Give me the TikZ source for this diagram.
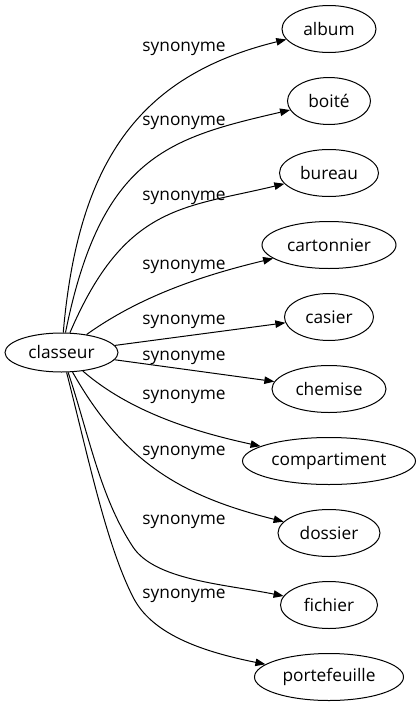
\documentclass[tikz,border=0pt]{standalone}
\usepackage{fontspec}
\setmainfont{Open Sans}
\usetikzlibrary{shapes.geometric,arrows.meta}
\tikzset{
  word/.style={ellipse, draw, line width=1pt, inner sep=0pt, minimum height=47pt, font=\fontsize{17.3}{20}\selectfont},
  rel/.style={font=\fontsize{17.3}{20}\selectfont, inner sep=0pt},
  edge/.style={line width=1pt, -{Triangle[length=10pt,width=7.5pt]}}
}
\begin{document}
\begin{tikzpicture}[x=1pt,y=1pt]
\useasboundingbox (0,0) rectangle (420,-707);
\node[word, minimum width=113pt, minimum height=39pt] (classeur) at (61.5,-352.5) {classeur};
\node[word, minimum width=94pt] (album) at (329,-29) {album};
\node[word, minimum width=83pt] (boite) at (329,-101) {boité};
\node[word, minimum width=99pt] (bureau) at (329,-173) {bureau};
\node[word, minimum width=134pt] (cartonnier) at (329,-245) {cartonnier};
\node[word, minimum width=89pt] (casier) at (329,-317) {casier};
\node[word, minimum width=114pt] (chemise) at (329,-389) {chemise};
\node[word, minimum width=173pt] (compartiment) at (329,-461) {compartiment};
\node[word, minimum width=102pt] (dossier) at (329,-533) {dossier};
\node[word, minimum width=97pt] (fichier) at (329,-605) {fichier};
\node[word, minimum width=149pt] (portefeuille) at (329,-677) {portefeuille};

\node[rel] (l1) at (184,-49) {synonyme};
\node[rel] (l2) at (184,-123) {synonyme};
\node[rel] (l3) at (184,-198) {synonyme};
\node[rel] (l4) at (184,-267) {synonyme};
\node[rel] (l5) at (184,-322) {synonyme};
\node[rel] (l6) at (184,-358) {synonyme};
\node[rel] (l7) at (184,-397) {synonyme};
\node[rel] (l8) at (184,-453) {synonyme};
\node[rel] (l9) at (184,-522) {synonyme};
\node[rel] (l10) at (184,-596) {synonyme};

\coordinate (mf) at (133,-547);
\coordinate (mp) at (133,-597);

\draw[edge] (classeur) .. controls (78,-164) and (137,-76) .. (album);
\draw[edge] (classeur) .. controls (101,-156) and (169,-138) .. (boite);
\draw[edge] (classeur) .. controls (125,-204) and (184,-208) .. (bureau);
\draw[edge] (classeur) .. controls (139,-297) and (200,-276) .. (cartonnier);
\draw[edge] (classeur) -- (casier);
\draw[edge] (classeur) -- (chemise);
\draw[edge] (classeur) .. controls (130,-412) and (195,-432) .. (compartiment);
\draw[edge] (classeur) .. controls (125,-465) and (185,-497) .. (dossier);
\draw[edge] (classeur) .. controls (89,-435) and (100,-497) .. (mf)
  .. controls (155,-580) and (223,-584) .. (fichier);
\draw[edge] (classeur) .. controls (88,-456) and (106,-544) .. (mp)
  .. controls (151,-633) and (199,-651) .. (portefeuille);
\end{tikzpicture}
\end{document}
